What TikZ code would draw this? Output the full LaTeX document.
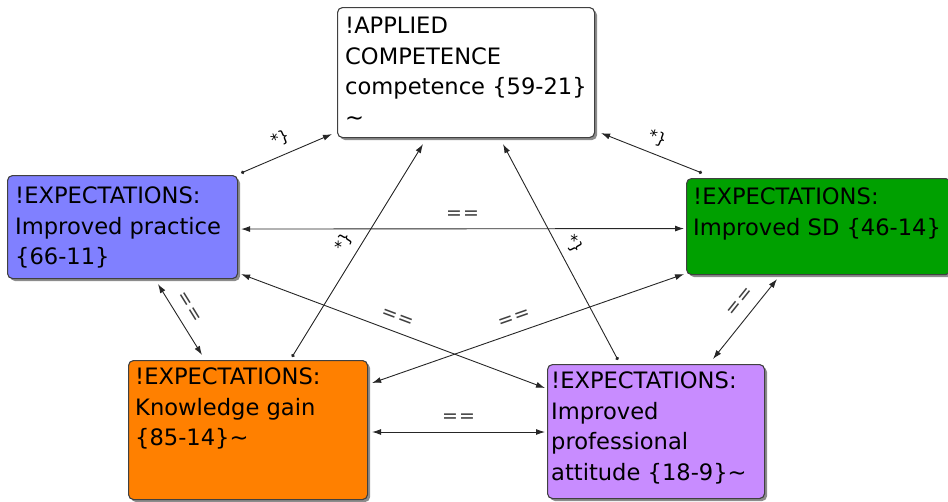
\documentclass[tikz,border=0pt]{standalone}
\usepackage{fontspec}
\setmainfont{DejaVu Sans}
\usetikzlibrary{arrows.meta,calc,shadows}
\definecolor{cblue}{HTML}{8080FF}
\definecolor{cgreen}{HTML}{00A000}
\definecolor{corange}{HTML}{FF8000}
\definecolor{cpurple}{HTML}{C88CFF}
\definecolor{cborder}{HTML}{404040}
\begin{document}
\begin{tikzpicture}[x=1pt,y=-1pt,
  box/.style={draw=cborder, line width=1.1pt, rounded corners=5pt, anchor=north west, inner sep=0pt,
    drop shadow={shadow xshift=2.5pt, shadow yshift=-2.5pt, opacity=0.45, fill=black}},
  txt/.style={anchor=north west, align=left, inner sep=0pt, font=\fontsize{22.6}{30.5}\selectfont},
  conn/.style={draw=black!85, line width=0.9pt},
  arr2/.style={{Latex[length=9pt,width=6pt]}-{Latex[length=9pt,width=6pt]}},
  arrc/.style={{Circle[length=3.5pt]}-{Latex[length=9pt,width=6pt]}},
  lab/.style={font=\fontsize{16}{16}\selectfont, sloped, inner sep=1pt, above=7pt},
  eqlab/.style={font=\fontsize{19}{19}\selectfont, sloped, inner sep=1pt, above=8pt, text=black!75}
]
\useasboundingbox (0,0) rectangle (948,501);

% boxes
\node[box, fill=white,   minimum width=257pt, minimum height=130pt] (ap) at (337,7) {};
\node[box, fill=cblue,   minimum width=230pt, minimum height=103pt] (pr) at (7,175) {};
\node[box, fill=cgreen,  minimum width=264pt, minimum height=96pt]  (sd) at (686,178) {};
\node[box, fill=corange, minimum width=239pt, minimum height=139pt] (kg) at (128,360) {};
\node[box, fill=cpurple, minimum width=217pt, minimum height=134pt] (pa) at (547,364) {};

% texts
\node[txt] (apt) at ($(ap.north west)+(8,10)$) {!APPLIED\\COMPETENCE\\competence \{59-21\}\\\textasciitilde};
\node[txt] (prt) at ($(pr.north west)+(8,12)$) {!EXPECTATIONS:\\Improved practice\\\{66-11\}};
\node[txt] (sdt) at ($(sd.north west)+(7,10)$) {!EXPECTATIONS:\\Improved SD \{46-14\}};
\node[txt] (kgt) at ($(kg.north west)+(7,8)$) {!EXPECTATIONS:\\Knowledge gain\\\{85-14\}\textasciitilde};
\node[txt] (pat) at ($(pa.north west)+(4,8)$) {!EXPECTATIONS:\\Improved\\professional\\attitude \{18-9\}\textasciitilde};

% connectors to applied competence
\draw[conn,arrc] ($(pr.north east)+(3,-2)$) -- node[lab, pos=0.5] (l1) {*\}} ($(ap.south west)+(-5,-4)$);
\draw[conn,arrc] ($(sd.north west)+(16,-5)$) -- node[lab] (l2) {*\}} ($(ap.south east)+(6,-5)$);
\draw[conn,arrc] ($(kg.north west)+(164,-3)$) -- node[lab, pos=0.5] (l3) {*\}} ($(ap.south west)+(86,6)$);
\draw[conn,arrc] ($(pa.north west)+(71,-4)$) -- node[lab, pos=0.5] (l4) {*\}} ($(ap.south west)+(166,6)$);

% expectation links
\draw[conn,arr2] ($(pr.east)+(3,2)$) -- node[eqlab] (l5) {=\kern1pt=} ($(sd.west)+(-2,2)$);
\draw[conn,arr2] ($(pr.south east)+(3,-5)$) -- node[eqlab, pos=0.5] (l6) {=\kern1pt=} ($(pa.north west)+(-2,24)$);
\draw[conn,arr2] ($(kg.north east)+(4,23)$) -- node[eqlab, pos=0.47] (l7) {=\kern1pt=} ($(sd.south west)+(-2,-1)$);
\draw[conn,arr2] ($(pr.south west)+(151,5)$) -- node[eqlab, pos=0.43] (l8) {=\kern1pt=} ($(kg.north west)+(74,-5)$);
\draw[conn,arr2] ($(sd.south west)+(91,4)$) -- node[eqlab, pos=0.4] (l9) {=\kern1pt=} ($(pa.north west)+(166,-5)$);
\draw[conn,arr2] ($(kg.north east)+(4,72)$) -- node[eqlab] (l10) {=\kern1pt=} ($(pa.north west)+(-2,68)$);
\end{tikzpicture}
\end{document}
